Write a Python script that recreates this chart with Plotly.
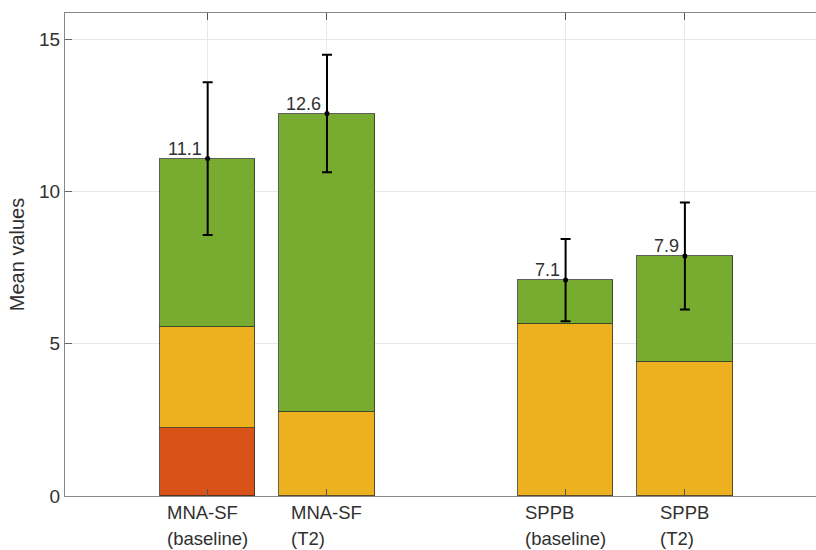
import plotly.graph_objects as go

# ---- data ----
categories = ["MNA-SF|(baseline)", "MNA-SF|(T2)", "SPPB|(baseline)", "SPPB|(T2)"]
x_pos = [1, 2, 4, 5]
red_vals = [2.22, 0.0, 0.0, 0.0]
orange_vals = [3.32, 2.76, 5.65, 4.40]
green_vals = [5.54, 9.80, 1.44, 3.48]
err_vals = [2.51, 1.93, 1.35, 1.76]
totals = [r + o + g for r, o, g in zip(red_vals, orange_vals, green_vals)]
y_ticks = [0, 5, 10, 15]

RED = "#D95319"
ORANGE = "#EDB120"
GREEN = "#77AC30"
EDGE = "rgba(40,40,40,0.75)"
TXT = "#303030"
FONT = "Liberation Sans, Arial, sans-serif"

fig = go.Figure()
for vals, col in [(red_vals, RED), (orange_vals, ORANGE), (green_vals, GREEN)]:
    fig.add_trace(go.Bar(x=x_pos, y=vals, width=0.8, marker=dict(color=col, line=dict(color=EDGE, width=1)),
                         showlegend=False, hoverinfo="skip"))

fig.add_trace(go.Scatter(
    x=x_pos, y=totals, mode="markers",
    marker=dict(color="black", size=5),
    error_y=dict(type="data", array=err_vals, visible=True, color="black", thickness=2, width=5),
    showlegend=False, hoverinfo="skip"))

# value labels
for xp, t in zip(x_pos, totals):
    fig.add_annotation(x=xp, y=t, text=f"{t:.1f}", showarrow=False, xanchor="right", yanchor="bottom",
                       xshift=-4, yshift=-2, font=dict(family=FONT, size=18, color=TXT))

# category labels (two lines, left-aligned block centered on tick)
for xp, lab in zip(x_pos, categories):
    l1, l2 = lab.split("|")
    fig.add_annotation(x=xp, y=0, xref="x", yref="paper",
                       text=f"<span style='font-size:18.5px'>{l1}</span><br><span style='font-size:18.5px'>{l2}</span>",
                       showarrow=False, xanchor="center", yanchor="top", align="left", yshift=-4,
                       font=dict(family=FONT, size=20, color=TXT))

fig.update_layout(
    width=816, height=550,
    margin=dict(l=65, r=0, t=13, b=54, autoexpand=False),
    barmode="stack", bargap=0,
    plot_bgcolor="white", paper_bgcolor="white",
    font=dict(family=FONT, size=19, color=TXT),
    xaxis=dict(range=[-0.196, 6.099], tickvals=x_pos, ticktext=[""] * 4, showticklabels=False,
               ticks="inside", ticklen=7, tickcolor="#555", showgrid=True, gridcolor="#e8e8e8",
               showline=True, linecolor="#888", linewidth=1.3, mirror="ticks", zeroline=False),
    yaxis=dict(range=[0, 15.86], tickvals=y_ticks, ticks="inside", ticklen=7, tickcolor="#666",
               showgrid=True, gridcolor="#e8e8e8", showline=True, linecolor="#888", linewidth=1.3,
               zeroline=False, tickfont=dict(size=19, color=TXT), automargin=False,
               title=dict(text="Mean values", font=dict(size=20, color=TXT), standoff=8)),
)

fig.write_html("out.html", config={"displayModeBar": False},
               post_script="document.body.style.margin='0';document.body.style.overflow='hidden';")
